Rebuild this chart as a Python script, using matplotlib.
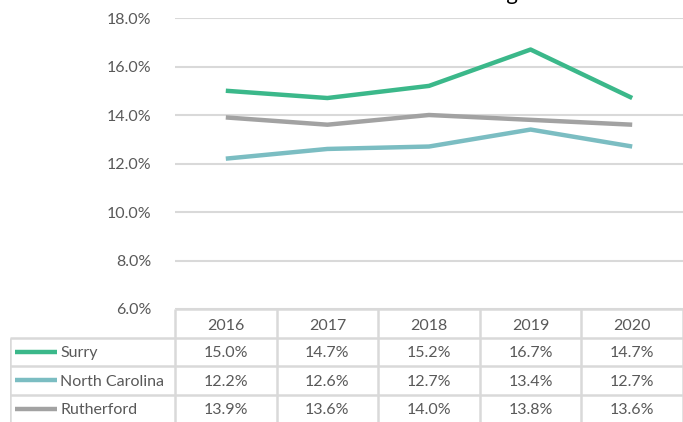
import matplotlib
matplotlib.use("Agg")
from matplotlib import pyplot as plt
from matplotlib.ticker import FuncFormatter

# data
years = ["2016", "2017", "2018", "2019", "2020"]
surry = [15.0, 14.7, 15.2, 16.7, 14.7]
north_carolina = [12.2, 12.6, 12.7, 13.4, 12.7]
rutherford = [13.9, 13.6, 14.0, 13.8, 13.6]

series = [("Surry", surry, "#3BB88A"),
          ("North Carolina", north_carolina, "#7BBDC2"),
          ("Rutherford", rutherford, "#A2A2A2")]

plt.rcParams["font.family"] = ["Lato", "DejaVu Sans"]
txt = "#595959"
grid_c = "#D9D9D9"
fs = 11.5

W, H = 683, 422
fig = plt.figure(figsize=(W / 100, H / 100), dpi=100)

# chart area (pixel layout)
ax = fig.add_axes([175 / W, (H - 309) / H, (W - 175) / W, (309 - 18) / H])
x = list(range(len(years)))
for name, vals, col in series:
    ax.plot(x, vals, color=col, lw=3.2, solid_capstyle="butt", zorder=3)
ax.set_xlim(-0.5, 4.5)
ax.set_ylim(6, 18)
ax.set_yticks([6, 8, 10, 12, 14, 16, 18])
ax.yaxis.set_major_formatter(FuncFormatter(lambda v, p: "%.1f%%" % v))
ax.set_xticks([])
ax.tick_params(axis="y", length=0, pad=17, labelsize=fs, labelcolor=txt)
ax.grid(axis="y", color=grid_c, lw=1.5)
ax.set_axisbelow(True)
for s in ax.spines.values():
    s.set_visible(False)

# data table below
col_w = (W - 175) / 5
lab_w = (175 - 10) / col_w
row_h = 28.5
tab = fig.add_axes([10 / W, 0, (W - 10) / W, (H - 309) / H])
tab.set_xlim(-0.5 - lab_w, 4.5)
tab.set_ylim((H - 309) / row_h, 0)
tab.axis("off")

left = -0.5 - lab_w
nrows = len(series) + 1
tab.hlines(0, -0.5, 4.5, color=grid_c, lw=1.8)
tab.hlines(range(1, nrows), left, 4.5, color=grid_c, lw=1.8)
tab.vlines([v - 0.5 for v in range(6)], 0, nrows, color=grid_c, lw=1.8)
tab.vlines(left, 1, nrows, color=grid_c, lw=1.8)

for i, yr in enumerate(years):
    tab.text(i, 0.6, yr, ha="center", va="center", fontsize=fs, color=txt)

px = 1 / col_w
for r, (name, vals, col) in enumerate(series, start=1):
    yc = r + 0.5
    tab.plot([-0.5 - 160 * px, -0.5 - 118 * px], [yc, yc], color=col, lw=3.2,
             solid_capstyle="butt")
    tab.text(-0.5 - 115 * px, yc + 0.05, name, ha="left", va="center",
             fontsize=fs, color=txt)
    for i, v in enumerate(vals):
        tab.text(i, yc + 0.05, "%.1f%%" % v, ha="center", va="center",
                 fontsize=fs, color=txt)

# title, cut off at the top of the image
fig.text(518 / W, 1.0, "Uninsured Rate Among", ha="right", va="baseline",
         fontsize=16, color="#000000")

fig.savefig("out.png", dpi=100, facecolor="white")
